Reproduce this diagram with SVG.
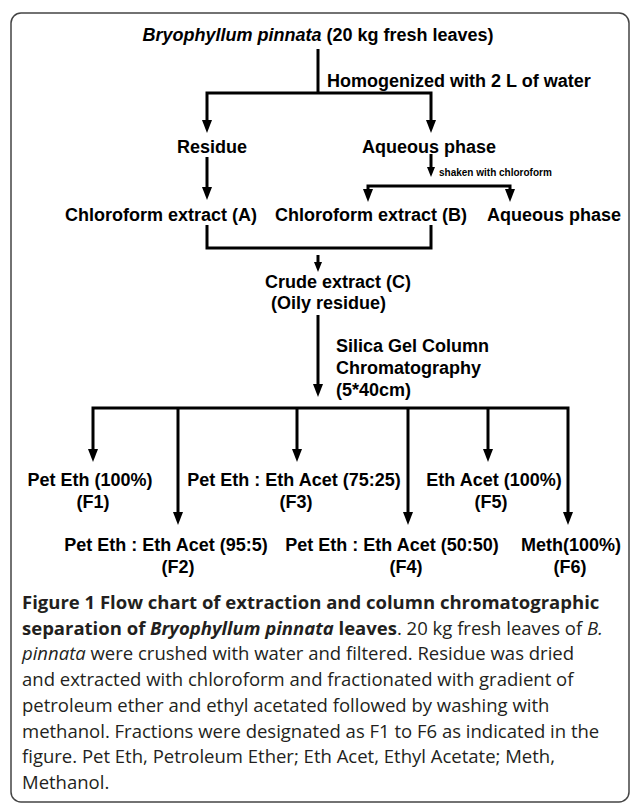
<svg xmlns="http://www.w3.org/2000/svg" width="631" height="804" viewBox="0 0 631 804">
<defs>
<style>
.lbl{font-family:"Liberation Sans",Arial,sans-serif;font-weight:bold;font-size:18px;fill:#000}
.sm{font-family:"Liberation Sans",Arial,sans-serif;font-weight:bold;font-size:10px;fill:#000}
.cap{font-family:"Open Sans","Noto Sans",sans-serif;font-size:18.5px;fill:#231f20}
.ln{fill:none;stroke:#000;stroke-width:3;stroke-linejoin:miter}
.a{marker-end:url(#ah)}
.as{marker-start:url(#ah);marker-end:url(#ah)}
.s{marker-end:url(#ahs)}
</style>
<marker id="ah" viewBox="0 0 13 10" refX="1" refY="5" markerWidth="13" markerHeight="10" markerUnits="userSpaceOnUse" orient="auto-start-reverse"><path d="M0,0 L13,5 L0,10 z" fill="#000"/></marker>
<marker id="ahs" viewBox="0 0 10 8" refX="1" refY="4" markerWidth="10" markerHeight="8" markerUnits="userSpaceOnUse" orient="auto"><path d="M0,0 L10,4 L0,8 z" fill="#000"/></marker>
</defs>
<rect x="11" y="13" width="618" height="789" rx="10" ry="10" fill="#fff" stroke="#444" stroke-width="1.5"/>

<g id="connectors">
<line class="ln" x1="318" y1="49" x2="318" y2="93"/>
<path class="ln as" d="M207,121 V93 H431 V121"/>
<line class="ln a" x1="207" y1="157" x2="207" y2="188"/>
<line class="ln s" x1="431" y1="154" x2="431" y2="168"/>
<path class="ln as" d="M368,190 V186 H510 V190"/>
<path class="ln" d="M207,225 V248 H431 V225"/>
<line class="ln s" x1="318" y1="255" x2="318" y2="263"/>
<line class="ln a" x1="318" y1="315" x2="318" y2="385"/>
<path class="ln as" d="M93,450 V408 H568 V513"/>
<line class="ln a" x1="178" y1="408" x2="178" y2="513"/>
<line class="ln a" x1="297" y1="408" x2="297" y2="450"/>
<line class="ln a" x1="408" y1="408" x2="408" y2="513"/>
<line class="ln a" x1="488" y1="408" x2="488" y2="450"/>
</g>

<g id="n-source"><text class="lbl" x="318" y="41" text-anchor="middle"><tspan font-style="italic">Bryophyllum pinnata</tspan> (20 kg fresh leaves)</text></g>
<g id="e-homog"><text class="lbl" x="327" y="87">Homogenized with 2 L of water</text></g>
<g id="n-residue"><text class="lbl" x="212" y="153" text-anchor="middle">Residue</text></g>
<g id="n-aqueous1"><text class="lbl" x="429" y="153" text-anchor="middle">Aqueous phase</text></g>
<g id="e-shaken"><text class="sm" x="439" y="176">shaken with chloroform</text></g>
<g id="n-chloroA"><text class="lbl" x="161" y="221" text-anchor="middle">Chloroform extract (A)</text></g>
<g id="n-chloroB"><text class="lbl" x="371" y="221" text-anchor="middle">Chloroform extract (B)</text></g>
<g id="n-aqueous2"><text class="lbl" x="554" y="221" text-anchor="middle">Aqueous phase</text></g>
<g id="n-crude"><text class="lbl" x="265" y="288">Crude extract (C)</text><text class="lbl" x="271" y="309">(Oily residue)</text></g>
<g id="e-silica"><text class="lbl" x="336" y="352">Silica Gel Column</text><text class="lbl" x="336" y="374">Chromatography</text><text class="lbl" x="336" y="396">(5*40cm)</text></g>
<g id="n-f1"><text class="lbl" x="90" y="486" text-anchor="middle">Pet Eth (100%)</text><text class="lbl" x="93" y="508" text-anchor="middle">(F1)</text></g>
<g id="n-f3"><text class="lbl" x="294" y="486" text-anchor="middle">Pet Eth : Eth Acet (75:25)</text><text class="lbl" x="296" y="508" text-anchor="middle">(F3)</text></g>
<g id="n-f5"><text class="lbl" x="494" y="486" text-anchor="middle">Eth Acet (100%)</text><text class="lbl" x="491" y="508" text-anchor="middle">(F5)</text></g>
<g id="n-f2"><text class="lbl" x="166" y="551" text-anchor="middle">Pet Eth : Eth Acet (95:5)</text><text class="lbl" x="178" y="573" text-anchor="middle">(F2)</text></g>
<g id="n-f4"><text class="lbl" x="392" y="551" text-anchor="middle">Pet Eth : Eth Acet (50:50)</text><text class="lbl" x="406" y="573" text-anchor="middle">(F4)</text></g>
<g id="n-f6"><text class="lbl" x="571" y="551" text-anchor="middle">Meth(100%)</text><text class="lbl" x="570" y="573" text-anchor="middle">(F6)</text></g>

<g id="caption" class="cap">
<text x="22" y="609" font-weight="bold">Figure 1 Flow chart of extraction and column chromatographic</text>
<text x="22" y="635"><tspan font-weight="bold">separation of <tspan font-style="italic">Bryophyllum pinnata</tspan> leaves</tspan>. 20 kg fresh leaves of <tspan font-style="italic">B.</tspan></text>
<text x="22" y="660"><tspan font-style="italic">pinnata</tspan> were crushed with water and filtered. Residue was dried</text>
<text x="22" y="686">and extracted with chloroform and fractionated with gradient of</text>
<text x="22" y="712">petroleum ether and ethyl acetated followed by washing with</text>
<text x="22" y="738">methanol. Fractions were designated as F1 to F6 as indicated in the</text>
<text x="22" y="763">figure. Pet Eth, Petroleum Ether; Eth Acet, Ethyl Acetate; Meth,</text>
<text x="22" y="789">Methanol.</text>
</g>
</svg>
